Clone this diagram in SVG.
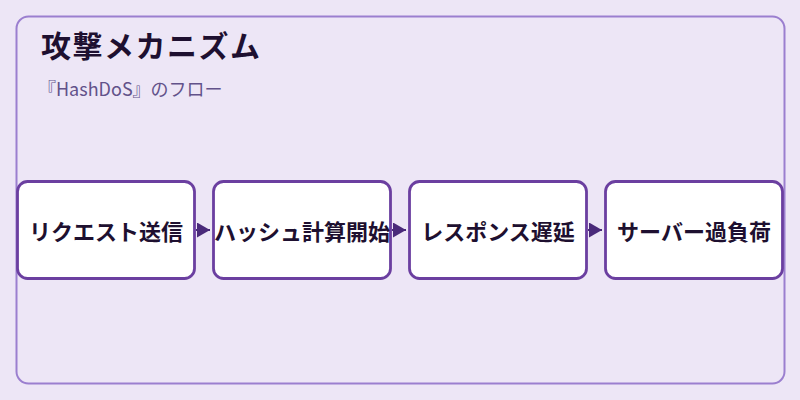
<svg xmlns="http://www.w3.org/2000/svg" width="800" height="400" viewBox="0 0 800 400">
  <defs>
    <style>
      .node rect { fill: #ffffff; stroke: #6b3fa0; stroke-width: 2.8; }
      .node text { font-family: "Noto Sans CJK JP", "Noto Sans", sans-serif; font-size: 22px; font-weight: bold; fill: #1e1030; text-anchor: middle; dominant-baseline: central; }
      .conn line { stroke: #4a2a7a; stroke-width: 2; }
    </style>
    <marker id="arrow" viewBox="0 0 13 15" refX="13" refY="7.5" markerWidth="13" markerHeight="15" markerUnits="userSpaceOnUse" orient="auto">
      <path d="M0,0 L13,7.5 L0,15 Z" fill="#4a2a7a"/>
    </marker>
  </defs>
  <rect x="0" y="0" width="800" height="400" fill="#ede6f6"/>
  <rect x="16.5" y="16.5" width="768" height="367" rx="12" fill="#ede6f6" stroke="#9b7fcf" stroke-width="2"/>
  <text x="41" y="57" font-family="Noto Sans CJK JP, Noto Sans, sans-serif" font-size="30" font-weight="bold" letter-spacing="1.5" fill="#1e1030">攻撃メカニズム</text>
  <text x="38" y="96" font-family="Noto Sans CJK JP, Noto Sans, sans-serif" font-size="18" fill="#62528a">『HashDoS』のフロー</text>
  <g id="connectors" class="conn">
    <line x1="196" y1="230" x2="210" y2="230" marker-end="url(#arrow)"/>
    <line x1="392" y1="230" x2="406" y2="230" marker-end="url(#arrow)"/>
    <line x1="588" y1="230" x2="602" y2="230" marker-end="url(#arrow)"/>
  </g>
  <g id="node1" class="node">
    <rect x="17.5" y="181.5" width="177" height="97" rx="10"/>
    <text x="106" y="230">リクエスト送信</text>
  </g>
  <g id="node2" class="node">
    <rect x="213.5" y="181.5" width="177" height="97" rx="10"/>
    <text x="302" y="230">ハッシュ計算開始</text>
  </g>
  <g id="node3" class="node">
    <rect x="409.5" y="181.5" width="177" height="97" rx="10"/>
    <text x="498" y="230">レスポンス遅延</text>
  </g>
  <g id="node4" class="node">
    <rect x="605.5" y="181.5" width="177" height="97" rx="10"/>
    <text x="694" y="230">サーバー過負荷</text>
  </g>
</svg>
